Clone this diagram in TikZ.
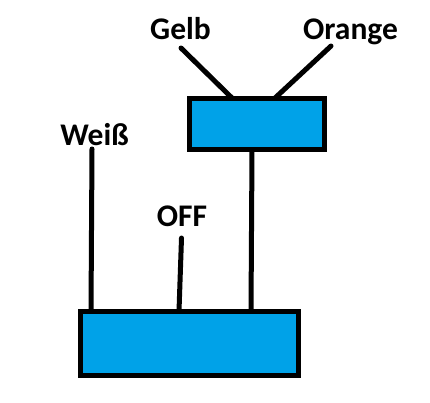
\documentclass[tikz,border=0pt]{standalone}
\usepackage{fontspec}
\setmainfont{Carlito}
\definecolor{paintblue}{HTML}{00A2E8}
\tikzset{
  x=1pt,y=-1pt,
  block/.style={draw=black,fill=paintblue,line width=5pt,rectangle,inner sep=0pt},
  wire/.style={draw=black,line width=5pt,line cap=round},
  lab/.style={font=\fontsize{31.5}{33}\selectfont\bfseries,text=black,inner sep=0pt,anchor=base}
}
\begin{document}
\begin{tikzpicture}
\useasboundingbox (0,0) rectangle (430,402);
\node[block,minimum width=135pt,minimum height=51pt] (top) at (257,124) {};
\node[block,minimum width=218pt,minimum height=64pt] (bottom) at (189.5,343.5) {};
\node[lab] (gelb) at (180.5,39) {Gelb};
\node[lab] (orange) at (350.5,39) {Orange};
\node[lab] (weiss) at (94.5,145) {Weiß};
\node[lab] (off) at (182,226.5) {OFF};
\coordinate (gelbend) at (181,48);
\coordinate (orangeend) at (331,46);
\coordinate (weissend) at (92,149);
\coordinate (offend) at (181.5,238);
\coordinate (topa) at (232,98);
\coordinate (topb) at (275,98);
\coordinate (topc) at (252,150);
\coordinate (bota) at (91,311);
\coordinate (botb) at (179,311);
\coordinate (botc) at (251,311);
\draw[wire] (gelbend) -- (topa);
\draw[wire] (orangeend) -- (topb);
\draw[wire] (topc) -- (botc);
\draw[wire] (weissend) -- (bota);
\draw[wire] (offend) -- (botb);
\end{tikzpicture}
\end{document}
